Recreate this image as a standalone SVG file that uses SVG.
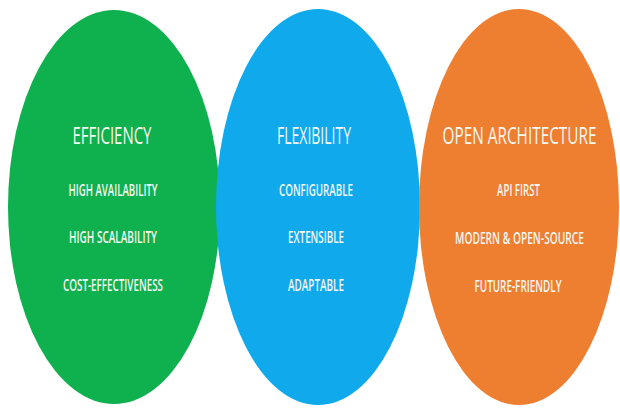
<svg xmlns="http://www.w3.org/2000/svg" width="620" height="408" viewBox="0 0 620 408">
<style>
.t{font-family:"Open Sans","Liberation Sans",sans-serif;fill:#f3f7f0;text-anchor:middle}
.h{font-size:24px;font-weight:400}
.b{font-size:15.5px;font-weight:600}
</style>
<rect width="620" height="408" fill="#ffffff"/>
<g id="efficiency">
<ellipse cx="114" cy="207" rx="106" ry="197" fill="#0fb04e"/>
<text class="t h" x="112" y="143.5" textLength="79" lengthAdjust="spacingAndGlyphs">EFFICIENCY</text>
<text class="t b" x="113" y="196" textLength="89" lengthAdjust="spacingAndGlyphs">HIGH AVAILABILITY</text>
<text class="t b" x="113" y="243" textLength="88" lengthAdjust="spacingAndGlyphs">HIGH SCALABILITY</text>
<text class="t b" x="113" y="291" textLength="100" lengthAdjust="spacingAndGlyphs">COST-EFFECTIVENESS</text>
</g>
<g id="flexibility">
<ellipse cx="318" cy="207" rx="102" ry="198" fill="#0fa9ec"/>
<text class="t h" x="314" y="143.5" textLength="74" lengthAdjust="spacingAndGlyphs">FLEXIBILITY</text>
<text class="t b" x="316" y="196" textLength="74" lengthAdjust="spacingAndGlyphs">CONFIGURABLE</text>
<text class="t b" x="316" y="243" textLength="56" lengthAdjust="spacingAndGlyphs">EXTENSIBLE</text>
<text class="t b" x="316" y="291" textLength="56" lengthAdjust="spacingAndGlyphs">ADAPTABLE</text>
</g>
<g id="open-architecture">
<ellipse cx="519" cy="207" rx="100" ry="198" fill="#ee7e30"/>
<text class="t h" x="519.5" y="144" textLength="154" lengthAdjust="spacingAndGlyphs">OPEN ARCHITECTURE</text>
<text class="t b" x="518.5" y="196" textLength="43" lengthAdjust="spacingAndGlyphs">API FIRST</text>
<text class="t b" x="519.5" y="244" textLength="129" lengthAdjust="spacingAndGlyphs">MODERN &amp; OPEN-SOURCE</text>
<text class="t b" x="518" y="292" textLength="87" lengthAdjust="spacingAndGlyphs">FUTURE-FRIENDLY</text>
</g>
<g id="connectors"/>
</svg>
